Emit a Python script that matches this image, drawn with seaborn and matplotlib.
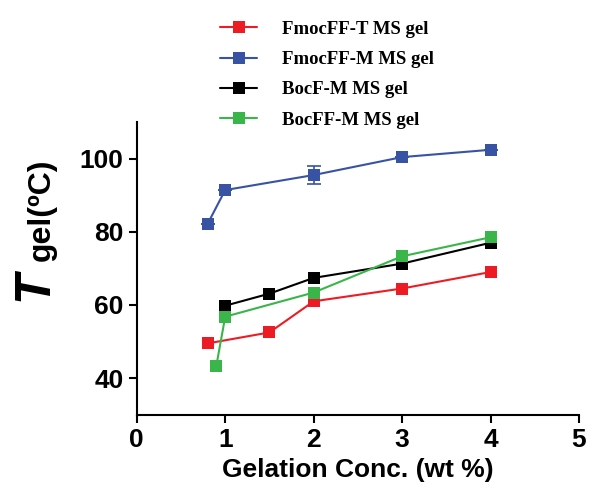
import numpy as np
import pandas as pd
import matplotlib
matplotlib.use("Agg")
import matplotlib.pyplot as plt
import seaborn as sns

sns.set_style("ticks")
plt.rcParams['font.family'] = ['Liberation Sans', 'DejaVu Sans']
plt.rcParams['text.color'] = 'black'
plt.rcParams['xtick.color'] = 'black'
plt.rcParams['ytick.color'] = 'black'
plt.rcParams['axes.labelcolor'] = 'black'

# data
fmocff_t_x = [0.8, 1.5, 2, 3, 4]
fmocff_t_y = [49.5, 52.5, 61.0, 64.5, 69.0]
fmocff_m_x = [0.8, 1, 2, 3, 4]
fmocff_m_y = [82.1, 91.4, 95.5, 100.4, 102.4]
fmocff_m_err = [0, 0, 2.4, 0, 0]
bocf_m_x = [1, 1.5, 2, 3, 4]
bocf_m_y = [59.8, 63.1, 67.4, 71.3, 77.0]
bocff_m_x = [0.9, 1, 2, 3, 4]
bocff_m_y = [43.4, 56.8, 63.4, 73.3, 78.5]

labels = ["FmocFF-T MS gel", "FmocFF-M MS gel", "BocF-M MS gel", "BocFF-M MS gel"]
colors = ["#ED1C24", "#3953A4", "#000000", "#39B54A"]
xs = [fmocff_t_x, fmocff_m_x, bocf_m_x, bocff_m_x]
ys = [fmocff_t_y, fmocff_m_y, bocf_m_y, bocff_m_y]

fig = plt.figure(figsize=(5.92, 5.04), dpi=100)
ax = fig.add_axes([0.231, 0.177, 0.747, 0.581])

ax.errorbar(fmocff_m_x, fmocff_m_y, yerr=fmocff_m_err, fmt="none",
            ecolor=colors[1], elinewidth=1.2, capsize=5, capthick=1.2, zorder=1)

for x, y, c, lab in zip(xs, ys, colors, labels):
    df = pd.DataFrame({"conc": x, "tgel": y})
    sns.lineplot(data=df, x="conc", y="tgel", ax=ax, color=c, marker="s",
                 markersize=8, markeredgewidth=0, linewidth=1.5, label=lab,
                 zorder=2)

ax.set_xlim(0, 5)
ax.set_ylim(30, 110)
ax.set_xticks([0, 1, 2, 3, 4, 5])
ax.set_yticks([40, 60, 80, 100])
ax.tick_params(axis="both", labelsize=19, width=1.5, length=6, color="black")
for t in ax.get_xticklabels() + ax.get_yticklabels():
    t.set_fontweight("bold")
sns.despine(ax=ax)
for s in ["left", "bottom"]:
    ax.spines[s].set_linewidth(1.5)
    ax.spines[s].set_color("black")

ax.set_xlabel("Gelation Conc. (wt %)", fontsize=19, fontweight="bold", labelpad=4)
ax.set_ylabel("")

# y label: large italic T plus smaller "gel(ºC)"
fig.text(34 / 592, 1 - 286 / 504, "T", rotation=90, ha="center", va="center",
         fontsize=36, fontweight="bold", fontstyle="italic")
fig.text(42 / 592, 1 - 210 / 504, "gel(ºC)", rotation=90, ha="center", va="center",
         fontsize=23, fontweight="bold")

leg = ax.legend(loc="upper left", bbox_to_anchor=(203 / 592, 1 - 4 / 504),
                bbox_transform=fig.transFigure, frameon=False,
                prop={"family": "Liberation Serif", "weight": "bold", "size": 13.5},
                handlelength=2.0, labelspacing=0.7, handletextpad=1.3)

fig.savefig("out.png", dpi=100)
